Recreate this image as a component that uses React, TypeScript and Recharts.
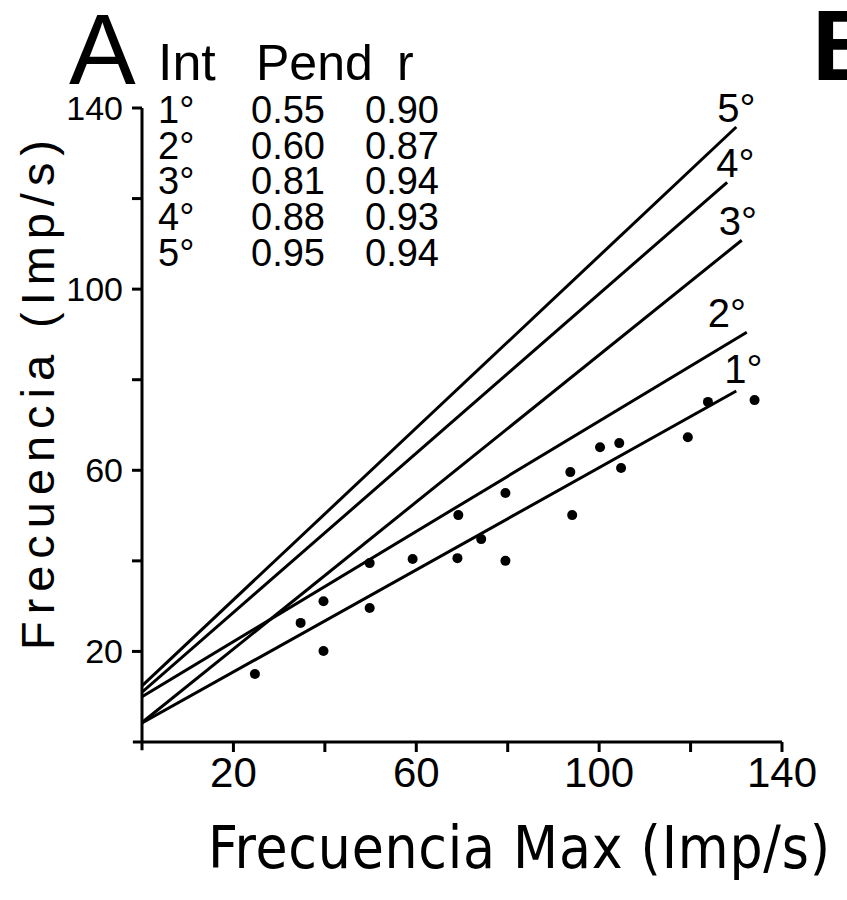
import React from 'react';
import {
  ComposedChart,
  Line,
  Scatter,
  XAxis,
  YAxis,
  ReferenceLine,
  Customized,
} from 'recharts';

// ---- data ----
const lineNames = ['1°', '2°', '3°', '4°', '5°'];
const lineStartX = [0, 0, 0, 0, 0];
const lineStartY = [4.2, 10.0, 4.3, 11.0, 12.4];
const lineEndX = [130.0, 132.3, 131.2, 128.0, 130.0];
const lineEndY = [77.5, 90.5, 110.8, 123.6, 135.8];

const pointX = [24.7, 34.7, 39.7, 39.7, 49.8, 49.8, 59.2, 69.0, 69.2, 74.2, 79.5, 79.5, 93.7, 94.1, 100.2, 104.4, 104.8, 119.4, 123.8, 134.0];
const pointY = [15.0, 26.3, 31.1, 20.1, 39.5, 29.6, 40.4, 40.6, 50.1, 44.8, 40.0, 55.0, 59.6, 50.1, 65.1, 66.0, 60.5, 67.3, 75.1, 75.5];

const xTicks = [20, 40, 60, 80, 100, 120, 140];
const yTicks = [20, 40, 60, 80, 100, 120, 140];
const labeledTicks = [20, 60, 100, 140];

const tableHeader = ['Int', 'Pend', 'r'];
const tableInt = ['1°', '2°', '3°', '4°', '5°'];
const tablePend = ['0.55', '0.60', '0.81', '0.88', '0.95'];
const tableR = ['0.90', '0.87', '0.94', '0.93', '0.94'];

const xTitle = 'Frecuencia  Max (Imp/s)';
const yTitle = 'Frecuencia (Imp/s)';

// ---- styling / layout (not data) ----
const FONT = '"Liberation Sans", Arial, Helvetica, sans-serif';
const NARROW = '"Liberation Sans Narrow", "DejaVu Sans Condensed", "Liberation Sans", Arial, sans-serif';
const INK = '#000';
const AXIS_W = 3;
const TICK_SIZE = 10;
const labelOffsets = [
  { dx: -12, dy: -8 },
  { dx: -39, dy: -5 },
  { dx: -23, dy: -5 },
  { dx: -11, dy: -5 },
  { dx: -19, dy: -5 },
];

const lineData = lineNames.map((_, i) => [
  { x: lineStartX[i], y: lineStartY[i] },
  { x: lineEndX[i], y: lineEndY[i] },
]);
const points = pointX.map((x, i) => ({ x, y: pointY[i] }));

const tickFmt = (v: number) => (labeledTicks.includes(v) ? String(v) : '');

const X_MARGIN = 5;
const Y_MARGIN = 9;

const XTick = (p: any) => {
  const top = p.y - X_MARGIN - TICK_SIZE;
  return (
    <g>
      <line x1={p.x} x2={p.x} y1={top} y2={top + TICK_SIZE} stroke="#000" strokeWidth={AXIS_W} />
      <text x={p.x} y={p.y} dy="0.71em" textAnchor="middle" fontSize={42} fontFamily={FONT} fill={INK}>
        {tickFmt(p.payload.value)}
      </text>
    </g>
  );
};

const YTick = (p: any) => {
  const right = p.x + Y_MARGIN + TICK_SIZE;
  return (
    <g>
      <line x1={right - TICK_SIZE} x2={right} y1={p.y} y2={p.y} stroke="#000" strokeWidth={AXIS_W} />
      <text x={p.x} y={p.y} dy="0.355em" textAnchor="end" fontSize={34} fontFamily={FONT} fill={INK}>
        {tickFmt(p.payload.value)}
      </text>
    </g>
  );
};

const Annotations = () => (
  <g fill={INK} fontFamily={FONT}>
    <text x={69} y={84} fontSize={100}>A</text>
    <text x={812} y={80} fontSize={100} fontWeight="bold">B</text>
    <text x={158} y={80} fontSize={52}>{tableHeader[0]}</text>
    <text x={256} y={80} fontSize={50}>{tableHeader[1]}</text>
    <text x={397} y={80} fontSize={50}>{tableHeader[2]}</text>
    {tableInt.map((t, i) => (
      <g key={t} fontSize={38}>
        <text x={158} y={123 + i * 35.7}>{t}</text>
        <text x={251} y={123 + i * 35.7}>{tablePend[i]}</text>
        <text x={365} y={123 + i * 35.7}>{tableR[i]}</text>
      </g>
    ))}
    <text
      transform="translate(54,395) rotate(-90)"
      textAnchor="middle"
      fontSize={47}
      textLength={510}
      lengthAdjust="spacing"
    >
      {yTitle}
    </text>
    <text
      x={208}
      y={868}
      fontSize={58}
      fontFamily={NARROW}
      textLength={622}
      lengthAdjust="spacing"
    >
      {xTitle}
    </text>
  </g>
);

const makeLabel = (i: number) => (p: any) => {
  if (p.index !== 1) return null;
  const o = labelOffsets[i];
  return (
    <text
      key={`lbl-${i}`}
      x={p.x + o.dx}
      y={p.y + o.dy}
      fontSize={40}
      fontFamily={FONT}
      fill={INK}
    >
      {lineNames[i]}
    </text>
  );
};

const Dot = (p: any) => <circle cx={p.cx} cy={p.cy} r={5} fill="#000" />;

export default function App() {
  return (
    <div style={{ position: 'absolute', left: 0, top: 0, width: 847, height: 900, background: '#fff' }}>
      <ComposedChart
        width={847}
        height={900}
        margin={{ top: 108, right: 65, bottom: 138, left: 122 }}
      >
        <XAxis
          type="number"
          dataKey="x"
          domain={[0, 140]}
          ticks={xTicks}
          interval={0}
          height={20}
          tickSize={TICK_SIZE}
          tickMargin={X_MARGIN}
          axisLine={false}
          tickLine={false}
          tick={XTick}
          allowDataOverflow
        />
        <YAxis
          type="number"
          dataKey="y"
          domain={[0, 140]}
          ticks={yTicks}
          interval={0}
          width={20}
          tickSize={TICK_SIZE}
          tickMargin={Y_MARGIN}
          axisLine={false}
          tickLine={false}
          tick={YTick}
          allowDataOverflow
        />
        <ReferenceLine
          segment={[{ x: 0, y: -1.8 }, { x: 0, y: 140 }]}
          ifOverflow="visible"
          stroke="#000"
          strokeWidth={AXIS_W}
        />
        <ReferenceLine
          segment={[{ x: -2, y: 0 }, { x: 140, y: 0 }]}
          ifOverflow="visible"
          stroke="#000"
          strokeWidth={AXIS_W}
        />
        {lineData.map((d, i) => (
          <Line
            key={lineNames[i]}
            data={d}
            dataKey="y"
            type="linear"
            stroke="#000"
            strokeWidth={3}
            dot={false}
            activeDot={false}
            label={makeLabel(i)}
            isAnimationActive={false}
          />
        ))}
        <Scatter data={points} dataKey="y" shape={Dot} isAnimationActive={false} />
        <Customized component={Annotations} />
      </ComposedChart>
    </div>
  );
}
